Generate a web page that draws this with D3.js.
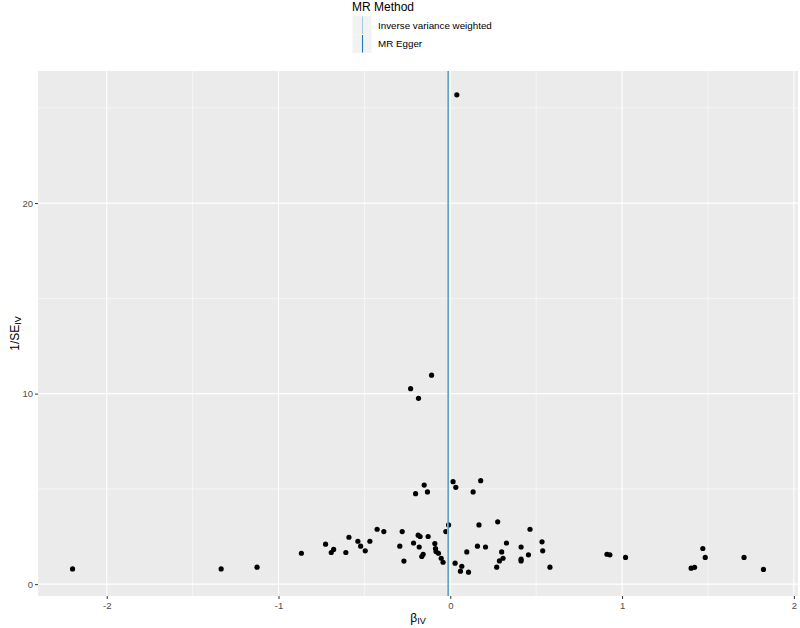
<!DOCTYPE html>
<html>
<head>
<meta charset="utf-8">
<script src="https://cdn.jsdelivr.net/npm/d3@7"></script>
<style>
  body { margin: 0; background: #fff; }
  svg { display: block; font-family: "Liberation Sans", Arial, sans-serif; }
</style>
</head>
<body>
<svg id="chart" width="800" height="628"></svg>
<script>
// SNP estimates: beta_IV and 1/SE_IV
const betaIV = [
  0.038, -0.109, -0.231, -0.185, -0.152, -0.202, -0.133, 0.016, 0.032, 0.177,
  0.133, -1.125, -0.867, -0.726, -0.693, -0.679, -0.608, -0.590, -0.538, -0.522,
  -0.495, -0.468, -0.426, -0.387, -0.280, -0.294, -0.270, -0.214, -0.187, -0.176,
  -0.181, -0.129, -0.166, -0.158, -0.090, -0.086, -0.083, -0.069, -0.053, -0.042,
  -0.026, -0.010, 0.028, 0.067, 0.059, 0.106, 0.096, 0.158, 0.167, 0.205,
  0.276, 0.299, 0.327, 0.307, 0.286, 0.270, 0.412, 0.412, 0.412, 0.455,
  0.464, 0.534, 0.538, 0.580, -2.199, -1.334, 0.912, 0.929, 1.020, 1.402,
  1.422, 1.470, 1.484, 1.710, 1.823
];
const invSE = [
  25.68, 10.97, 10.26, 9.75, 5.20, 4.75, 4.84, 5.38, 5.08, 5.43,
  4.84, 0.89, 1.62, 2.10, 1.66, 1.82, 1.66, 2.46, 2.25, 1.99,
  1.75, 2.25, 2.88, 2.76, 2.76, 1.99, 1.21, 2.16, 2.57, 2.50,
  1.95, 2.50, 1.45, 1.57, 2.13, 1.87, 1.71, 1.62, 1.36, 1.15,
  2.76, 3.11, 1.10, 0.94, 0.68, 0.63, 1.69, 1.99, 3.11, 1.95,
  3.27, 1.69, 2.16, 1.36, 1.22, 0.89, 1.95, 1.31, 1.22, 1.54,
  2.88, 2.22, 1.75, 0.89, 0.80, 0.80, 1.57, 1.54, 1.40, 0.84,
  0.88, 1.87, 1.40, 1.40, 0.77
];

// MR estimates (vertical lines)
const methods = ['Inverse variance weighted', 'MR Egger'];
const methodBeta = [-0.014, -0.012];
const methodColors = ['#a6cee3', '#1f78b4'];

const xTicks = [-2, -1, 0, 1, 2];
const xMinor = [-1.5, -0.5, 0.5, 1.5];
const yTicks = [0, 10, 20];
const yMinor = [5, 15, 25];

const points = betaIV.map((b, i) => ({b: b, s: invSE[i]}));

const panel = {left: 38, right: 798, top: 71, bottom: 596};

// ggplot-like 5% expansion of the data range
const expand = (ext) => {
  const pad = (ext[1] - ext[0]) * 0.05;
  return [ext[0] - pad, ext[1] + pad];
};

const x = d3.scaleLinear()
    .domain(expand(d3.extent(betaIV)))
    .range([panel.left, panel.right]);
const y = d3.scaleLinear()
    .domain(expand(d3.extent(invSE)))
    .range([panel.bottom, panel.top]);

const svg = d3.select('#chart');

svg.append('rect')
    .attr('x', panel.left)
    .attr('y', panel.top)
    .attr('width', panel.right - panel.left)
    .attr('height', panel.bottom - panel.top)
    .attr('fill', '#ebebeb');

const grid = svg.append('g').attr('stroke', '#fff').attr('fill', 'none');
grid.selectAll('.xminor').data(xMinor).join('line')
    .attr('x1', (d) => x(d)).attr('x2', (d) => x(d))
    .attr('y1', panel.top).attr('y2', panel.bottom)
    .attr('stroke-width', 0.55);
grid.selectAll('.yminor').data(yMinor).join('line')
    .attr('y1', (d) => y(d)).attr('y2', (d) => y(d))
    .attr('x1', panel.left).attr('x2', panel.right)
    .attr('stroke-width', 0.55);
grid.selectAll('.xmajor').data(xTicks).join('line')
    .attr('x1', (d) => x(d)).attr('x2', (d) => x(d))
    .attr('y1', panel.top).attr('y2', panel.bottom)
    .attr('stroke-width', 1.1);
grid.selectAll('.ymajor').data(yTicks).join('line')
    .attr('y1', (d) => y(d)).attr('y2', (d) => y(d))
    .attr('x1', panel.left).attr('x2', panel.right)
    .attr('stroke-width', 1.1);

svg.append('g')
    .selectAll('circle')
    .data(points)
    .join('circle')
    .attr('cx', (d) => x(d.b))
    .attr('cy', (d) => y(d.s))
    .attr('r', 2.6)
    .attr('fill', '#000');

svg.append('g')
    .selectAll('line')
    .data(methodBeta)
    .join('line')
    .attr('x1', (d) => x(d)).attr('x2', (d) => x(d))
    .attr('y1', panel.top).attr('y2', panel.bottom)
    .attr('stroke', (d, i) => methodColors[i])
    .attr('stroke-width', (d, i) => (i === 0 ? 1.6 : 0.8));

// axes
const xAxis = d3.axisBottom(x).tickValues(xTicks).tickSize(3).tickPadding(3)
    .tickFormat((d) => String(d).replace('\u2212', '-'));
const gx = svg.append('g')
    .attr('transform', `translate(0,${panel.bottom})`)
    .call(xAxis);
const yAxis = d3.axisLeft(y).tickValues(yTicks).tickSize(3).tickPadding(2);
const gy = svg.append('g')
    .attr('transform', `translate(${panel.left},0)`)
    .call(yAxis);
[gx, gy].forEach((g) => {
  g.select('.domain').remove();
  g.selectAll('.tick line').attr('stroke', '#333').attr('stroke-width', 1);
  g.selectAll('.tick text')
      .attr('fill', '#4d4d4d')
      .attr('font-size', 9.5)
      .attr('font-family', '"Liberation Sans", Arial, sans-serif');
});

// axis titles
const xt = svg.append('text')
    .attr('x', (panel.left + panel.right) / 2)
    .attr('y', 622)
    .attr('text-anchor', 'middle')
    .attr('font-size', 12)
    .attr('fill', '#000');
xt.append('tspan').text('\u03b2');
xt.append('tspan').attr('font-size', 9).attr('dy', 2).text('IV');

const yt = svg.append('text')
    .attr('transform', `translate(19,${(panel.top + panel.bottom) / 2}) rotate(-90)`)
    .attr('text-anchor', 'middle')
    .attr('font-size', 12)
    .attr('fill', '#000');
yt.append('tspan').text('1/SE');
yt.append('tspan').attr('font-size', 9).attr('dy', 2).text('IV');

// legend
const legend = svg.append('g').attr('transform', 'translate(352,0)');
legend.append('text')
    .attr('x', 0).attr('y', 11)
    .attr('font-size', 12)
    .attr('fill', '#000')
    .text('MR Method');
const keyH = 18.5;
const item = legend.selectAll('.item')
    .data(methods)
    .join('g')
    .attr('transform', (d, i) => `translate(0,${16 + i * keyH})`);
item.append('rect')
    .attr('x', 0.5).attr('y', 0)
    .attr('width', 19).attr('height', keyH)
    .attr('fill', '#f2f2f2');
item.append('line')
    .attr('x1', 10.5).attr('x2', 10.5)
    .attr('y1', 0.5).attr('y2', keyH - 0.5)
    .attr('stroke', (d, i) => methodColors[i])
    .attr('stroke-width', 1.1);
item.append('text')
    .attr('x', 26).attr('y', keyH / 2)
    .attr('dy', '0.35em')
    .attr('font-size', 9.8)
    .attr('fill', '#000')
    .text((d) => d);
</script>
</body>
</html>
